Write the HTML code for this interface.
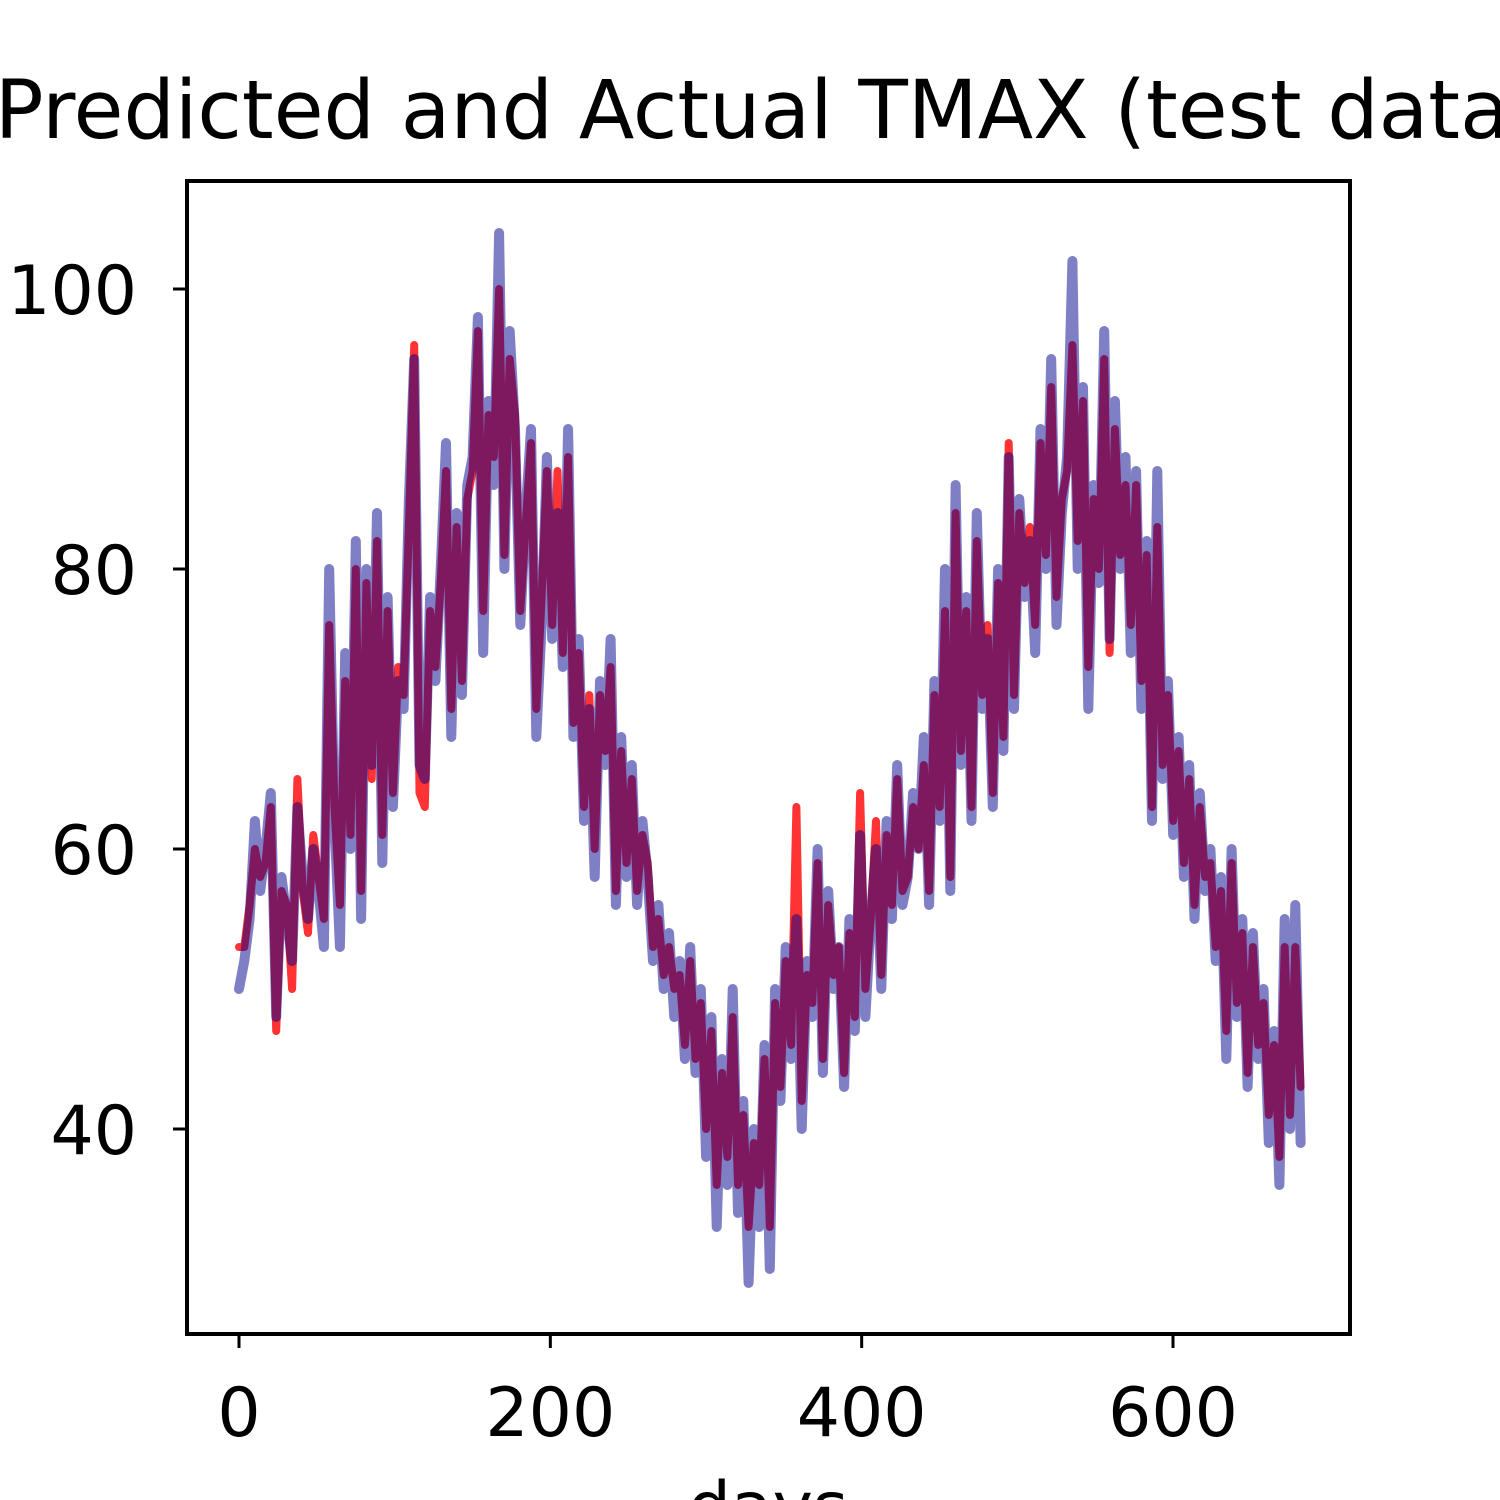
<!DOCTYPE html>
<html><head><meta charset="utf-8"><style>
body{margin:0;background:#fff;}
svg{display:block;font-family:"DejaVu Sans","Liberation Sans",sans-serif;}
</style></head><body>
<svg id="chart" width="1500" height="1500" viewBox="0 0 1500 1500">
<text x="768" y="138" font-size="81" text-anchor="middle">Predicted and Actual TMAX (test data)</text>
<g id="lines"></g>
<rect x="187" y="181" width="1163" height="1153" fill="none" stroke="#000" stroke-width="4"/>
<g id="ticks"></g>
<text x="768" y="1530" font-size="68" text-anchor="middle">days</text>
</svg>
<script>
const actual=[50,52,55,62,57,60,64,48,58,55,52,63,58,55,60,57,
53,80,62,53,74,60,82,55,80,66,84,59,78,63,72,
70,85,95,66,65,78,72,80,89,68,84,71,86,88,98,
74,92,86,104,80,97,90,76,84,90,68,76,88,75,84,73,90,68,75,62,70,58,72,66,75,56,68,58,66,56,62,58,52,56,50,54,48,52,45,53,44,50,38,48,33,45,36,50,34,42,29,40,33,46,30,50,42,53,45,55,40,52,48,60,44,57,50,53,43,55,47,61,48,55,60,50,62,55,66,56,58,64,60,68,56,72,62,80,57,86,66,78,62,84,70,75,63,80,67,88,70,85,78,82,74,90,80,95,76,84,88,102,80,93,70,86,79,97,75,92,80,88,74,87,70,82,62,87,65,72,61,68,58,66,55,64,57,60,52,58,45,60,48,55,43,54,45,50,39,47,36,55,40,56,39];
const predicted=[53,53,56,60,58,59,63,47,57,56,50,65,57,54,61,58,
55,76,63,56,72,61,80,57,79,65,82,61,77,64,73,
71,83,96,64,63,77,73,79,87,70,83,72,85,87,97,
77,91,88,100,81,95,91,77,83,89,70,78,87,76,87,74,88,69,74,63,71,60,71,67,73,57,67,59,65,57,61,59,53,55,51,53,50,51,46,52,45,49,40,47,36,44,38,48,36,41,33,39,36,45,33,49,43,52,46,63,42,51,49,59,45,56,51,53,44,54,48,64,50,55,62,51,61,56,65,57,58,63,60,66,57,71,63,77,58,84,67,77,63,82,71,76,64,79,68,89,71,84,79,83,76,89,81,93,78,85,87,96,82,92,73,85,80,95,74,90,81,86,76,86,72,81,63,83,66,71,62,67,59,65,56,63,58,59,53,57,47,59,49,54,44,53,46,49,41,46,38,53,41,53,43];
const xTicks=[0,200,400,600];
const yTicks=[40,60,80,100];
const xMaxDay=682;
function xs(d){return 239+d*(1173-239)/600;}
function ys(v){return 1129-(v-40)*14;}
const NS="http://www.w3.org/2000/svg";
function poly(arr,color,op,w,name){
  const p=document.createElementNS(NS,"polyline");
  const n=arr.length;
  p.setAttribute("points",arr.map((v,i)=>xs(i*xMaxDay/(n-1)).toFixed(1)+","+ys(v).toFixed(1)).join(" "));
  p.setAttribute("fill","none");p.setAttribute("stroke",color);
  p.setAttribute("stroke-opacity",op);p.setAttribute("stroke-width",w);
  p.setAttribute("stroke-linejoin","round");p.setAttribute("stroke-linecap","round");
  
  
  document.getElementById("lines").appendChild(p);
}
poly(predicted,"#ff0000",0.8,8,"predicted-line");
poly(actual,"#00008b",0.5,10,"actual-line");
const tg=document.getElementById("ticks");
xTicks.forEach(t=>{
  const l=document.createElementNS(NS,"line");
  l.setAttribute("x1",xs(t));l.setAttribute("x2",xs(t));l.setAttribute("y1",1334);l.setAttribute("y2",1348);
  l.setAttribute("stroke","#000");l.setAttribute("stroke-width",3);
  
  
  tg.appendChild(l);
  const tx=document.createElementNS(NS,"text");
  tx.setAttribute("x",xs(t));tx.setAttribute("y",1436);tx.setAttribute("font-size","68");tx.setAttribute("text-anchor","middle");
  tx.textContent=t;
  
  
  tg.appendChild(tx);
});
yTicks.forEach(t=>{
  const l=document.createElementNS(NS,"line");
  l.setAttribute("x1",173);l.setAttribute("x2",187);l.setAttribute("y1",ys(t));l.setAttribute("y2",ys(t));
  l.setAttribute("stroke","#000");l.setAttribute("stroke-width",3);
  
  
  tg.appendChild(l);
  const tx=document.createElementNS(NS,"text");
  tx.setAttribute("x",137);tx.setAttribute("y",ys(t)+25);tx.setAttribute("font-size","68");tx.setAttribute("text-anchor","end");
  tx.textContent=t;
  
  
  tg.appendChild(tx);
});
</script>
</body></html>
